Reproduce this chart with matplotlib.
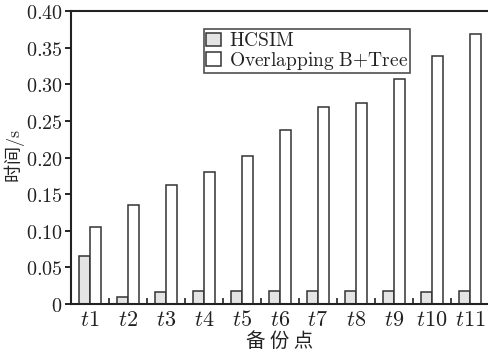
import matplotlib
matplotlib.use("Agg")
import matplotlib.pyplot as plt
import numpy as np
from matplotlib.ticker import FixedLocator, FuncFormatter

plt.rcParams['mathtext.fontset'] = 'cm'
plt.rcParams['font.family'] = ['Noto Sans CJK SC', 'DejaVu Sans']

points = ['t1', 't2', 't3', 't4', 't5', 't6', 't7', 't8', 't9', 't10', 't11']
hcsim = [0.065, 0.010, 0.017, 0.018, 0.018, 0.018, 0.018, 0.018, 0.018, 0.017, 0.018]
overlap = [0.105, 0.135, 0.162, 0.180, 0.202, 0.237, 0.269, 0.275, 0.307, 0.338, 0.368]
yticks = [0, 0.05, 0.10, 0.15, 0.20, 0.25, 0.30, 0.35, 0.40]

fig = plt.figure(figsize=(4.89, 3.52), dpi=100)
ax = fig.add_axes([0.145, 0.136, 0.853, 0.833])

x = np.arange(len(points))
w = 0.29
edge = '#333333'
ax.bar(x - w / 2, hcsim, w, color='#e4e4e4', edgecolor=edge, linewidth=1.1,
       label=r'$\mathrm{HCSIM}$')
ax.bar(x + w / 2, overlap, w, color='white', edgecolor=edge, linewidth=1.1,
       label=r'$\mathrm{Overlapping\ B{+}Tree}$')

ax.set_xlim(-0.5, 10.48)
ax.set_ylim(0, 0.40)

ax.set_xticks(x)
ax.set_xticklabels(['$' + p + '$' for p in points], fontsize=16, color='#222222')
ax.tick_params(axis='x', which='major', length=0, pad=3)
ax.xaxis.set_minor_locator(FixedLocator(x[:-1] + 0.5))
ax.tick_params(axis='x', which='minor', direction='in', length=4, width=1.2, color='#222222')

ax.set_yticks(yticks)
ax.yaxis.set_major_formatter(FuncFormatter(lambda v, p: '$0$' if v == 0 else '$%.2f$' % v))
ax.tick_params(axis='y', direction='out', length=4, width=1.2, labelsize=14.5, pad=2,
               labelcolor='#222222')

for s in ['left', 'bottom', 'top']:
    ax.spines[s].set_linewidth(1.5)
    ax.spines[s].set_color('#222222')
ax.spines['right'].set_visible(False)

ax.set_xlabel('备 份 点', fontsize=14, labelpad=0, color='#222222')
ax.set_ylabel(r'时间$/\mathrm{s}$', fontsize=13, color='#222222')
ax.yaxis.set_label_coords(-0.105, 0.505)

leg = ax.legend(loc='upper left', bbox_to_anchor=(0.32, 0.94), borderaxespad=0,
                fontsize=14, frameon=True, fancybox=False, handlelength=0.75,
                handleheight=0.7, handletextpad=0.4, borderpad=0.1, labelspacing=-0.1)
leg.get_frame().set_edgecolor('#222222')
leg.get_frame().set_linewidth(1.2)
for t in leg.get_texts():
    t.set_color('#222222')

fig.savefig('out.png', dpi=100)
